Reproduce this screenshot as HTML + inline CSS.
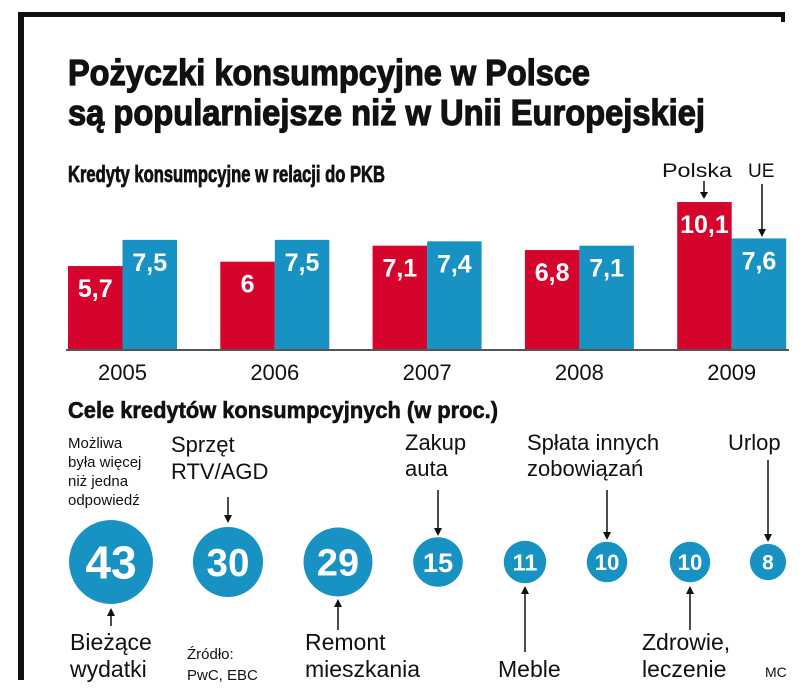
<!DOCTYPE html>
<html><head><meta charset="utf-8"><style>
html,body{margin:0;padding:0;background:#fff;}
svg{display:block;font-family:"Liberation Sans",sans-serif;}
</style></head><body>
<svg id="chart" width="805" height="697" viewBox="0 0 805 697">
<rect x="0" y="0" width="805" height="697" fill="#fff"/>
<rect x="18" y="12" width="767" height="5" fill="#111"/>
<rect x="781" y="12" width="4" height="10" fill="#111"/>
<rect x="18" y="12" width="6" height="668" fill="#111"/>
<text x="68" y="85" font-size="36" font-weight="bold" stroke="#111" stroke-width="1.2" textLength="522" lengthAdjust="spacingAndGlyphs" fill="#111">Pożyczki konsumpcyjne w Polsce</text>
<text x="68" y="125" font-size="36" font-weight="bold" stroke="#111" stroke-width="1.2" textLength="637" lengthAdjust="spacingAndGlyphs" fill="#111">są popularniejsze niż w Unii Europejskiej</text>
<text x="68" y="182" font-size="23" font-weight="bold" stroke="#111" stroke-width="0.8" textLength="317" lengthAdjust="spacingAndGlyphs" fill="#111">Kredyty konsumpcyjne w relacji do PKB</text>
<g id="bars"></g>
<text x="662" y="177" font-size="19" textLength="70" lengthAdjust="spacingAndGlyphs" fill="#111">Polska</text>
<line x1="704" y1="181" x2="704" y2="195" stroke="#111" stroke-width="1.5"/>
<path d="M700,192 L704,199 L708,192 Z" fill="#111"/>
<text x="748" y="177" font-size="19" fill="#111">UE</text>
<line x1="762" y1="184" x2="762" y2="232" stroke="#111" stroke-width="1.5"/>
<path d="M758,229 L762,237 L766,229 Z" fill="#111"/>
<text x="68" y="418" font-size="23" font-weight="bold" stroke="#111" stroke-width="0.6" textLength="430" lengthAdjust="spacingAndGlyphs" fill="#111">Cele kredytów konsumpcyjnych (w proc.)</text>
<g id="bubbles"></g>
<g fill="#111">
<text font-size="15"><tspan x="68" y="448">Możliwa</tspan><tspan x="68" y="467">była więcej</tspan><tspan x="68" y="486">niż jedna</tspan><tspan x="68" y="505">odpowiedź</tspan></text>
<text font-size="22"><tspan x="171" y="452">Sprzęt</tspan><tspan x="171" y="479">RTV/AGD</tspan></text>
<text font-size="22"><tspan x="405" y="450">Zakup</tspan><tspan x="405" y="476">auta</tspan></text>
<text font-size="22"><tspan x="527" y="450">Spłata innych</tspan><tspan x="527" y="476">zobowiązań</tspan></text>
<text x="728" y="450" font-size="22">Urlop</text>
<text font-size="23"><tspan x="70" y="650">Bieżące</tspan><tspan x="70" y="677">wydatki</tspan></text>
<text font-size="15"><tspan x="187" y="659">Źródło:</tspan><tspan x="187" y="680">PwC, EBC</tspan></text>
<text font-size="23"><tspan x="305" y="650">Remont</tspan><tspan x="305" y="677">mieszkania</tspan></text>
<text x="498" y="677" font-size="23">Meble</text>
<text font-size="23"><tspan x="642" y="650">Zdrowie,</tspan><tspan x="642" y="677">leczenie</tspan></text>
<text x="765" y="677" font-size="14">MC</text>
</g>
<g stroke="#111" stroke-width="1.5" fill="#111">
<line x1="228" y1="497" x2="228" y2="518"/><path d="M224,515 L228,523 L232,515 Z" stroke="none"/>
<line x1="438" y1="490" x2="438" y2="531"/><path d="M434,528 L438,536 L442,528 Z" stroke="none"/>
<line x1="607" y1="490" x2="607" y2="535"/><path d="M603,532 L607,540 L611,532 Z" stroke="none"/>
<line x1="768" y1="460" x2="768" y2="537"/><path d="M764,534 L768,542 L772,534 Z" stroke="none"/>
<line x1="111" y1="612" x2="111" y2="626"/><path d="M107,616 L111,608 L115,616 Z" stroke="none"/>
<line x1="338" y1="603" x2="338" y2="630"/><path d="M334,607 L338,599 L342,607 Z" stroke="none"/>
<line x1="525" y1="590" x2="525" y2="652"/><path d="M521,594 L525,586 L529,594 Z" stroke="none"/>
<line x1="690" y1="590" x2="690" y2="630"/><path d="M686,594 L690,586 L694,594 Z" stroke="none"/>
</g>
</svg>
<script>
const years = ["2005","2006","2007","2008","2009"];
const polska = [5.7, 6, 7.1, 6.8, 10.1];
const ue = [7.5, 7.5, 7.4, 7.1, 7.6];
const polskaLabels = ["5,7","6","7,1","6,8","10,1"];
const ueLabels = ["7,5","7,5","7,4","7,1","7,6"];
const goalValues = [43, 30, 29, 15, 11, 10, 10, 8];
const goalNames = ["biezace-wydatki","sprzet-rtv-agd","remont-mieszkania","zakup-auta","meble","splata-zobowiazan","zdrowie","urlop"];

const NS = "http://www.w3.org/2000/svg";
const barsG = document.getElementById("bars");
const baseY = 349, pxPerUnit = 14.55, bw = 54.5;
const xGroup = i => 68 + i * 152.3;
const yScale = v => baseY - v * pxPerUnit;
function mk(tag, attrs, parent){ const e = document.createElementNS(NS, tag); for (const k in attrs) e.setAttribute(k, attrs[k]); parent.appendChild(e); return e; }
years.forEach((yr, i) => {
  const x0 = xGroup(i);
  [[polska[i], polskaLabels[i], "#d5042c", 0, "polska"], [ue[i], ueLabels[i], "#1792c2", bw, "ue"]].forEach(([v, lab, col, off, s]) => {
    const r = mk("rect", {x: x0 + off, y: yScale(v), width: bw, height: v * pxPerUnit, fill: col}, barsG);
    
    
    const t = mk("text", {x: x0 + off + bw / 2, y: yScale(v) + 31, "text-anchor": "middle", "font-size": 25, "font-weight": "bold", fill: "#fff"}, barsG);
    t.textContent = lab;
    
    
  });
  const yl = mk("text", {x: x0 + bw, y: 380, "text-anchor": "middle", "font-size": 22, fill: "#111"}, barsG);
  yl.textContent = yr;
  
  
});
const bl = mk("line", {x1: 66, y1: baseY + 1, x2: 789, y2: baseY + 1, stroke: "#555", "stroke-width": 2}, barsG);



const bubG = document.getElementById("bubbles");
const cxs = [111, 228, 338, 438, 525, 607, 690, 768];
const rScale = v => 6.4 * Math.sqrt(v);
goalValues.forEach((v, i) => {
  const r = rScale(v);
  const c = mk("circle", {cx: cxs[i], cy: 562, r: r, fill: "#1792c2"}, bubG);
  
  
  const fs = Math.max(r * 1.1, 21);
  const t = mk("text", {x: cxs[i], y: 562 + fs * 0.36, "text-anchor": "middle", "font-size": fs, "font-weight": "bold", fill: "#fff"}, bubG);
  t.textContent = v;
  
  
});
</script>
</body></html>
